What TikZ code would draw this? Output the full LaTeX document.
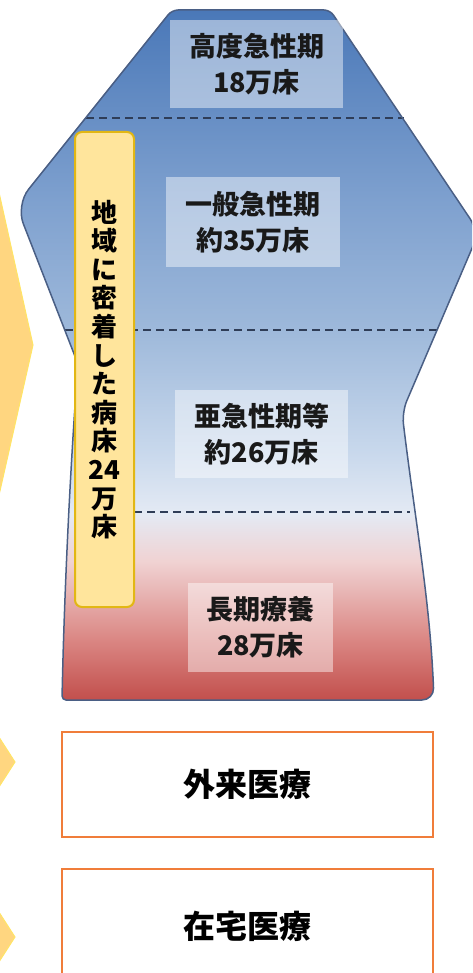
\documentclass[tikz,border=0pt]{standalone}
\usepackage{fontspec}
\newfontfamily\jp{Noto Sans CJK JP}
\definecolor{bedred}{HTML}{C24F4C}
\definecolor{bc1}{HTML}{DB8885}
\definecolor{bc2}{HTML}{F0D2D2}
\definecolor{bc3}{HTML}{E4EAF4}
\definecolor{bc4}{HTML}{C8D8EC}
\definecolor{bc5}{HTML}{9DB8DA}
\definecolor{bc6}{HTML}{7FA1CF}
\definecolor{bc7}{HTML}{4A78B8}
\definecolor{edgeblue}{HTML}{4A5F85}
\definecolor{dashcol}{HTML}{2F3D57}
\definecolor{barfill}{HTML}{FFE59C}
\definecolor{bardraw}{HTML}{E2B714}
\definecolor{chevfill}{HTML}{FFD680}
\definecolor{chevdraw}{HTML}{FFE566}
\definecolor{boxorange}{HTML}{F07D3A}
\pgfdeclareverticalshading{bedshade}{100bp}{color(0bp)=(bedred); color(25bp)=(bedred); color(29.5bp)=(bc1); color(35bp)=(bc2); color(38.5bp)=(bc3); color(43bp)=(bc4); color(52bp)=(bc5); color(61bp)=(bc6); color(75bp)=(bc7); color(100bp)=(bc7)}
\tikzset{
  lbl/.style={fill=white, fill opacity=0.45, text opacity=1, inner sep=0pt, align=center, text=black!90,
    font=\jp\bfseries\fontsize{27}{36}\selectfont},
  barbox/.style={fill=barfill, draw=bardraw, line width=2pt, rounded corners=7pt, inner sep=0pt, align=center,
    font=\jp\bfseries\fontsize{26}{28.6}\selectfont},
  obox/.style={fill=white, draw=boxorange, line width=2.2pt, inner sep=0pt, align=center,
    font=\jp\bfseries\fontsize{32}{36}\selectfont},
  divline/.style={draw=dashcol, line width=1.8pt, dash pattern=on 8pt off 5pt},
  chev/.style={fill=chevfill, draw=chevdraw, line width=1pt},
}
\def\bedpath{(172,10) [rounded corners=6pt] -- (330,10) [rounded corners=16pt] -- (479,232) [rounded corners=12pt] -- (402,412)
  .. controls (415,520) and (430,600) .. (434,700) [rounded corners=4pt] -- (62,700)
  .. controls (64,600) and (70,470) .. (78,364) [rounded corners=20pt] -- (16,205) [rounded corners=6pt] -- cycle}
\begin{document}
\begin{tikzpicture}[x=1pt,y=-1pt]
\useasboundingbox (0,0) rectangle (472,973);
\clip (0,0) rectangle (472,973);
% left chevrons
\draw[chev] (-10,152) -- (33,345) -- (-10,535) -- cycle;
\draw[chev] (-12,720) -- (15,762) -- (-12,804) -- cycle;
\draw[chev] (-12,895) -- (15,937) -- (-12,979) -- cycle;
% main bed shape
\shade[shading=bedshade] \bedpath;
% dividers
\coordinate (d1l) at (86,118); \coordinate (d1r) at (404,118);
\coordinate (d2l) at (65,330); \coordinate (d2r) at (437,330);
\coordinate (d3l) at (134,512); \coordinate (d3r) at (410,512);
\draw[divline] (d1l) -- (d1r);
\draw[divline] (d2l) -- (d2r);
\draw[divline] (d3l) -- (d3r);
\draw[edgeblue, line width=1.5pt] \bedpath;
% labels
\node[lbl, minimum width=173pt, minimum height=88pt] (hi) at (256.5,64) {高度急性期\\18万床};
\node[lbl, minimum width=174pt, minimum height=90pt] (gen) at (253,222) {一般急性期\\約35万床};
\node[lbl, minimum width=173pt, minimum height=88pt] (sub) at (261.5,434) {亜急性期等\\約26万床};
\node[lbl, minimum width=145pt, minimum height=89pt] (long) at (260.5,627.5) {長期療養\\28万床};
% community bar
\node[barbox, minimum width=59pt, minimum height=475pt] (bar) at (104.5,369.5)
  {地\\域\\に\\密\\着\\し\\た\\病\\床\\24\\万\\床};
% bottom boxes
\node[obox, minimum width=371pt, minimum height=105pt] (out) at (247.5,784.5) {外来医療};
\node[obox, minimum width=371pt, minimum height=114pt] (home) at (247.5,926) {在宅医療};
\end{tikzpicture}
\end{document}
